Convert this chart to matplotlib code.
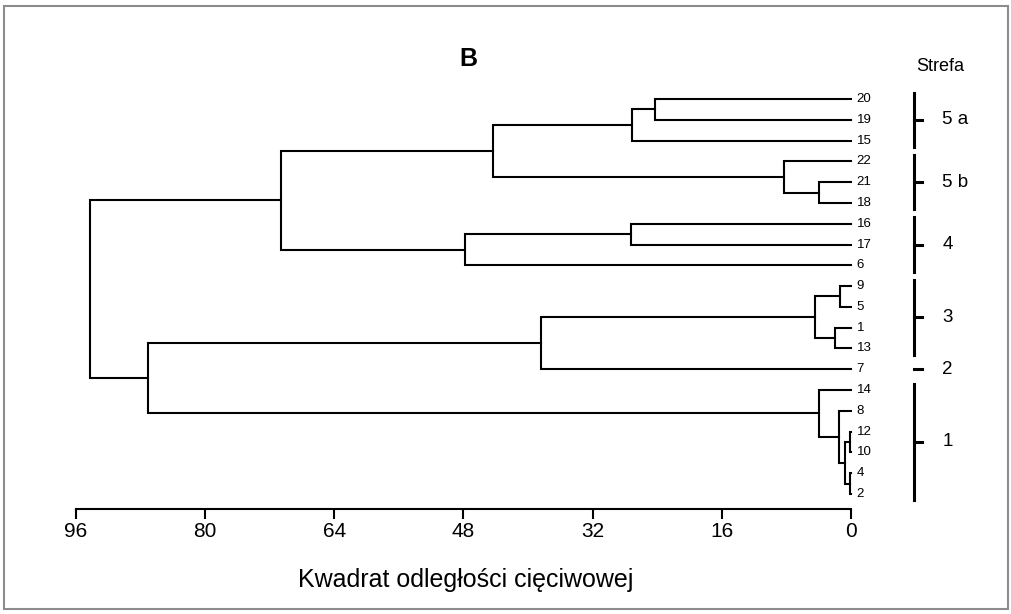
import matplotlib
matplotlib.use('Agg')
import matplotlib.pyplot as plt
from matplotlib.patches import Rectangle

plt.rcParams['font.family'] = ['Liberation Sans', 'DejaVu Sans']

# sample order down the tree
leaves = ['20', '19', '15', '22', '21', '18', '16', '17', '6',
          '9', '5', '1', '13', '7', '14', '8', '12', '10', '4', '2']

# agglomeration steps: new node, joined children, distance
merge_node = ['a', 'b', 'c', 'd', 'e', 'f', 'g', 'h', 'i', 'j',
              'k', 'l', 'm', 'n', 'o', 'p', 'q', 'r', 's']
merge_left = ['20', 'a', '21', '22', 'b', '16', 'f', 'e', '9', '1',
              'i', 'k', '12', '4', 'm', '8', '14', 'l', 'h']
merge_right = ['19', '15', '18', 'c', 'd', '17', '6', 'g', '5', '13',
               'j', '7', '10', '2', 'n', 'o', 'p', 'q', 'r']
merge_dist = [24.3, 27.1, 4.0, 8.3, 44.3, 27.2, 47.8, 70.6, 1.4, 2.0,
              4.5, 38.4, 0.1, 0.1, 0.8, 1.45, 4.0, 87.0, 94.2]

# zones and the samples they span
zone_names = ['5 a', '5 b', '4', '3', '2', '1']
zone_first = ['20', '22', '16', '9', '7', '14']
zone_last = ['15', '18', '6', '13', '7', '2']

xticks = [96, 80, 64, 48, 32, 16, 0]

W, H = 1011, 614
fig = plt.figure(figsize=(W / 100, H / 100), dpi=100)
fig.patches.append(Rectangle((4 / W, 5 / H), 1004 / W, 603 / H, transform=fig.transFigure,
                             fill=False, edgecolor='#8c8c8c', linewidth=1.5))

ax = fig.add_axes([75.7 / W, (H - 508.5) / H, (851 - 75.7) / W, (508.5 - 80) / H])

# position of each node: (y, distance)
pos = {lbl: (i, 0.0) for i, lbl in enumerate(leaves)}
for node, left, right, dist in zip(merge_node, merge_left, merge_right, merge_dist):
    y1, d1 = pos[left]
    y2, d2 = pos[right]
    ax.plot([d1, dist, dist, d2], [y1, y1, y2, y2], color='black', lw=1.5,
            solid_joinstyle='miter', clip_on=False)
    pos[node] = ((y1 + y2) / 2, dist)

for i, lbl in enumerate(leaves):
    ax.annotate(lbl, (0, i), xytext=(4, 0), textcoords='offset points',
                ha='left', va='center', fontsize=9.5)

# zone brackets on the right
bar_x, tick_x, text_x = -7.8, -8.8, -11.3
for name, first, last in zip(zone_names, zone_first, zone_last):
    i0 = leaves.index(first)
    i1 = leaves.index(last)
    mid = (i0 + i1) / 2
    if i1 > i0:
        ax.plot([bar_x, bar_x], [i0 - 0.3, i1 + 0.3], color='black', lw=2.2, clip_on=False)
    ax.plot([bar_x, tick_x], [mid, mid], color='black', lw=2.2, clip_on=False)
    ax.text(text_x, mid, name, ha='left', va='center', fontsize=13.5)
ax.text(-11.1, -1.55, 'Strefa', ha='center', va='center', fontsize=13)

ax.set_xlim(96, 0)
ax.set_ylim(19.70, -0.914)
for side in ['top', 'left', 'right']:
    ax.spines[side].set_visible(False)
ax.spines['bottom'].set_linewidth(1.5)
ax.set_yticks([])
ax.set_xticks(xticks)
ax.set_xticklabels([str(t) for t in xticks], fontsize=15)
ax.tick_params(axis='x', length=7, width=1.5, pad=3)

fig.text(468 / W, 1 - 59 / H, 'B', ha='center', va='center', fontsize=18, fontweight='bold')
fig.text(466 / W, 1 - 580 / H, 'Kwadrat odległości cięciwowej', ha='center', va='center',
         fontsize=18)

fig.savefig('out.png', dpi=100)
